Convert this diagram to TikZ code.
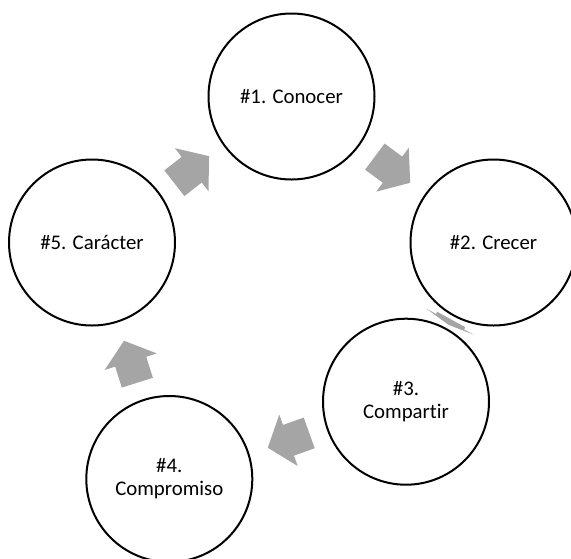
\documentclass[tikz,border=0pt]{standalone}
\usepackage{fontspec}
\setmainfont{Carlito}[Ligatures=NoCommon]
\definecolor{arrowgray}{HTML}{A5A5A5}
\tikzset{
  cyclenode/.style={circle, draw=black, line width=1.5pt, fill=white,
    minimum size=124.5pt, inner sep=0pt, align=center,
    font=\fontsize{15.6}{17.2}\selectfont},
  blockarrow/.pic={\fill[arrowgray] (-22,-16.3) -- (0,-16.3) -- (0,-27.3) -- (22,0)
     -- (0,27.3) -- (0,16.3) -- (-22,16.3) -- cycle;},
  flatarrow/.pic={\fill[arrowgray] (-3,-16) -- (-0.5,-16) -- (-0.5,-27) -- (3,0)
     -- (-0.5,27) -- (-0.5,16) -- (-3,16) -- cycle;}
}
\begin{document}
\begin{tikzpicture}[x=0.75pt,y=-0.75pt]
\path[use as bounding box] (0,0) rectangle (571,558);
\clip (0,0) rectangle (571,558);
% arrows
\pic (a12) [rotate=-36.6] at (392.5,169.7) {blockarrow};
\pic (a23) [rotate=-118.8] at (449.75,322.1) {flatarrow};
\pic (a34) [rotate=199.7] at (288.5,440.3) {blockarrow};
\pic (a45) [rotate=107.6] at (130.7,361.7) {blockarrow};
\pic (a51) [rotate=38] at (191.7,169.7) {blockarrow};
% circles
\node[cyclenode] (c1) at (291.5,96.5) {\#1. Conocer};
\node[cyclenode] (c2) at (493.5,242.5) {\#2. Crecer};
\node[cyclenode] (c3) at (406,401.7) {\#3.\\Compartir};
\node[cyclenode] (c4) at (169.3,479) {\#4.\\Compromiso};
\node[cyclenode] (c5) at (92,242.5) {\#5. Carácter};
\end{tikzpicture}
\end{document}
